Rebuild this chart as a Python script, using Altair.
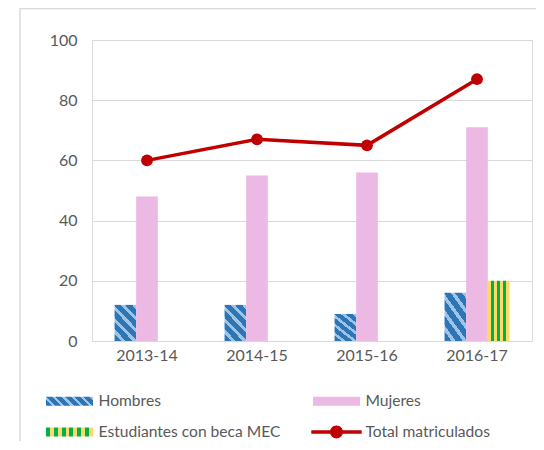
import json
import altair as alt
import pandas as pd

# ---------------- data ----------------
categories = ["2013-14", "2014-15", "2015-16", "2016-17"]
hombres = [12, 12, 9, 16]
mujeres = [48, 55, 56, 71]
beca = [0, 0, 0, 20]
total = [60, 67, 65, 87]

bar_series = ["Hombres", "Mujeres", "Estudiantes con beca MEC"]
line_series = "Total matriculados"
all_series = bar_series + [line_series]

# ---------------- styles ----------------
BLUE = "#2E75B6"
LBLUE = "#9DC3E6"
PINK = "#ECB8E4"
GREEN = "#00B050"
YELLOW = "#FFD966"
RED = "#C00000"
TXT = "#595959"
GRID = "#D9D9D9"
FONT = "Lato"


def stripe_stops(c1, c2, cycles, frac1):
    stops = []
    w = 1.0 / cycles
    for i in range(cycles):
        s = i * w
        stops += [
            {"offset": round(s, 4), "color": c1},
            {"offset": round(s + w * frac1, 4), "color": c1},
            {"offset": round(s + w * frac1, 4), "color": c2},
            {"offset": round(s + w, 4), "color": c2},
        ]
    return stops


def diag_grad(k, cycles, frac1):
    x2 = (1 + k) / (1 + k * k)
    y2 = 1 - k * x2
    return {"gradient": "linear", "x1": 0, "y1": 1, "x2": round(x2, 4), "y2": round(y2, 4),
            "stops": stripe_stops(BLUE, LBLUE, cycles, frac1)}


def vert_grad(cA, cB, n):
    stops = []
    w = 1.0 / n
    for i in range(n):
        c = cA if i % 2 == 0 else cB
        stops += [{"offset": round(i * w, 4), "color": c},
                  {"offset": round((i + 1) * w, 4), "color": c}]
    return {"gradient": "linear", "x1": 0, "y1": 0, "x2": 1, "y2": 0, "stops": stops}


def ex(obj):
    return {"expr": json.dumps(obj)}


bar_fill_range = [ex(diag_grad(1.6, 5, 0.62)), PINK, ex(vert_grad(YELLOW, GREEN, 7))]
legend_color_range = [ex(diag_grad(0.19, 6, 0.62)), PINK, ex(vert_grad(GREEN, YELLOW, 12)), RED]

SYM = 576  # symbol box 24px; paths reach wider than the box
shape_range = [
    "M-1.96,-0.375H1.96V0.375H-1.96Z",
    "M-1.96,-0.375H1.96V0.375H-1.96Z",
    "M-1.96,-0.375H1.96V0.375H-1.96Z",
    "M-2.1,-0.146H2.1V0.146H-2.1Z M0.54,0A0.54,0.54,0,1,1,-0.54,0A0.54,0.54,0,1,1,0.54,0Z",
]

# ---------------- tables ----------------
rows = []
for name, vals in zip(bar_series, [hombres, mujeres, beca]):
    for c, v in zip(categories, vals):
        rows.append({"cat": c, "series": name, "value": v})
bars_df = pd.DataFrame(rows)
total_df = pd.DataFrame({"cat": categories, "series": line_series, "value": total})
legend_df = pd.DataFrame({"cat": [categories[0]], "series": [line_series], "value": [None]})

x_enc = alt.X(
    "cat:N",
    sort=categories,
    scale=alt.Scale(domain=categories, paddingInner=0.41, paddingOuter=0.205),
    axis=alt.Axis(title=None, domainColor=GRID, domainWidth=1, ticks=False, grid=False,
                  labelAngle=0, labelFont=FONT, labelFontSize=16, labelColor=TXT,
                  labelPadding=6),
)
y_enc = alt.Y(
    "value:Q",
    scale=alt.Scale(domain=[0, 100], nice=False),
    axis=alt.Axis(title=None, values=[0, 20, 40, 60, 80, 100], domain=False, ticks=False,
                  gridColor=GRID, gridWidth=1, labelFont=FONT, labelFontSize=16,
                  labelColor=TXT, labelPadding=15),
)

bars = alt.Chart(bars_df).mark_bar().encode(
    x=x_enc,
    xOffset=alt.XOffset("series:N", sort=bar_series,
                        scale=alt.Scale(domain=bar_series, paddingInner=0, paddingOuter=0)),
    y=y_enc,
    fill=alt.Fill("series:N", scale=alt.Scale(domain=bar_series, range=bar_fill_range),
                  legend=None),
)

line = alt.Chart(total_df).mark_line(
    color=RED, strokeWidth=3.5,
    point=alt.OverlayMarkDef(filled=True, color=RED, size=140, opacity=1),
).encode(x=alt.X("cat:N", sort=categories), y="value:Q")

leg = alt.Legend(
    title=None, orient="none", direction="horizontal", legendX=-34.5, legendY=349,
    columns=2, columnPadding=30, rowPadding=10, labelFont=FONT, labelFontSize=15.6,
    labelColor=TXT, labelOffset=17, symbolSize=SYM, symbolStrokeWidth=0,
    symbolOpacity=1, labelLimit=400,
)

legend_layer = alt.Chart(legend_df).mark_point(filled=True, opacity=1, size=SYM).encode(
    x=alt.X("cat:N", sort=categories),
    y="value:Q",
    color=alt.Color("series:N", sort=all_series,
                    scale=alt.Scale(domain=all_series, range=legend_color_range), legend=leg),
    shape=alt.Shape("series:N", sort=all_series,
                    scale=alt.Scale(domain=all_series, range=shape_range), legend=leg),
)

frame_df = pd.DataFrame({"a": [0]})
frame_left = alt.Chart(frame_df).mark_rule(color=GRID, strokeWidth=1.5).encode(
    x=alt.value(-72), y=alt.value(-32), y2=alt.value(401))
frame_top = alt.Chart(frame_df).mark_rule(color=GRID, strokeWidth=1.5).encode(
    x=alt.value(-72), x2=alt.value(444), y=alt.value(-31.5))

chart = alt.layer(frame_left, frame_top, bars, line, legend_layer).properties(
    width=440, height=301,
    padding={"left": 84, "top": 32, "right": 4, "bottom": 100},
    autosize=alt.AutoSizeParams(type="none"),
).configure_view(stroke=None).configure(background="white")

chart.save("out.html", embed_options={"renderer": "svg", "actions": False})
